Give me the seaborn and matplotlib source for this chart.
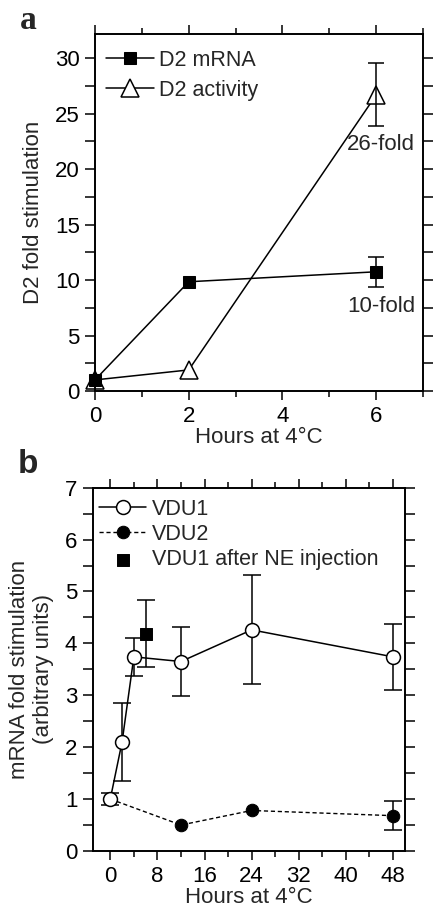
import numpy as np
import pandas as pd
import seaborn as sns
import matplotlib.pyplot as plt
from matplotlib.ticker import MultipleLocator

# panel a data
hours_a = [0, 2, 6]
mrna = [1.0, 9.85, 10.75]
mrna_err = [0, 0, 1.35]
activity = [1.0, 1.9, 26.7]
activity_err = [0, 0, 2.85]

# panel b data
hours_vdu1 = [0, 2, 4, 12, 24, 48]
vdu1 = [1.0, 2.1, 3.74, 3.65, 4.26, 3.74]
vdu1_err = [0.12, 0.76, 0.37, 0.67, 1.05, 0.63]
hours_vdu2 = [0, 12, 24, 48]
vdu2 = [1.0, 0.5, 0.78, 0.68]
vdu2_err = [0, 0, 0, 0.28]
hours_ne = [6]
ne = [4.19]
ne_err = [0.65]

sns.set_style("ticks")
plt.rcParams['font.family'] = ['Liberation Sans', 'DejaVu Sans']
plt.rcParams['axes.linewidth'] = 1.4
plt.rcParams['xtick.major.width'] = 1.1
plt.rcParams['ytick.major.width'] = 1.1
plt.rcParams['xtick.minor.width'] = 1.1
plt.rcParams['ytick.minor.width'] = 1.1

FS = 16

fig = plt.figure(figsize=(4.41, 9.11), dpi=100)
ax1 = fig.add_axes([0.2154, 0.5708, 0.744, 0.392])
ax2 = fig.add_axes([0.210, 0.0659, 0.708, 0.3988])


def style_axis(ax):
    ax.tick_params(which='both', direction='out', top=True, right=True,
                   labelsize=FS, colors='black', pad=4)
    ax.tick_params(axis='x', which='major', length=6.5, pad=4)
    ax.tick_params(axis='x', which='minor', length=4)
    ax.tick_params(axis='y', which='both', length=7)
    for s in ax.spines.values():
        s.set_color('black')


def err_bars(ax, x, y, e, cap):
    # only points that carry an error bar
    keep = [i for i in range(len(e)) if e[i] > 0]
    ax.errorbar([x[i] for i in keep], [y[i] for i in keep],
                yerr=[e[i] for i in keep], fmt='none', ecolor='black',
                elinewidth=1.1, capsize=cap, capthick=1.1)


# ---- panel a ----
da = pd.DataFrame({'h': hours_a, 'mrna': mrna, 'act': activity})
sns.lineplot(data=da, x='h', y='act', ax=ax1, color='black', lw=1.1,
             marker='^', markersize=13, markerfacecolor='white',
             markeredgecolor='black', markeredgewidth=1.1, clip_on=False,
             label='D2 activity')
sns.lineplot(data=da, x='h', y='mrna', ax=ax1, color='black', lw=1.1,
             marker='s', markersize=9, markerfacecolor='black',
             markeredgecolor='black', clip_on=False, label='D2 mRNA')
err_bars(ax1, hours_a, mrna, mrna_err, 6)
err_bars(ax1, hours_a, activity, activity_err, 6)
ax1.text(6.1, 22.2, '26-fold', ha='center', va='center', fontsize=FS)
ax1.text(6.1, 7.6, '10-fold', ha='center', va='center', fontsize=FS)

ax1.set_xlim(0, 7)
ax1.set_ylim(0, 32.2)
ax1.xaxis.set_major_locator(MultipleLocator(2))
ax1.xaxis.set_minor_locator(MultipleLocator(1))
ax1.yaxis.set_major_locator(MultipleLocator(5))
ax1.yaxis.set_minor_locator(MultipleLocator(2.5))
ax1.set_xlabel('Hours at 4°C', fontsize=FS, labelpad=0)
ax1.set_ylabel('D2 fold stimulation', fontsize=FS, labelpad=8)
style_axis(ax1)
h, l = ax1.get_legend_handles_labels()
ax1.legend(h[::-1], l[::-1], loc='upper left', bbox_to_anchor=(0.034, 0.955),
           frameon=False, fontsize=15.5, handlelength=2.2, handletextpad=0.25,
           labelspacing=0.4, borderaxespad=0, borderpad=0)
fig.text(0.063, 0.977, 'a', fontsize=24, fontweight='bold',
         family='Liberation Serif', ha='center', va='center')

# ---- panel b ----
d1 = pd.DataFrame({'h': hours_vdu1, 'v': vdu1})
d2 = pd.DataFrame({'h': hours_vdu2, 'v': vdu2})
dn = pd.DataFrame({'h': hours_ne, 'v': ne})
err_bars(ax2, hours_vdu1, vdu1, vdu1_err, 6.8)
err_bars(ax2, hours_vdu2, vdu2, vdu2_err, 6.8)
err_bars(ax2, hours_ne, ne, ne_err, 6.8)
sns.lineplot(data=d2, x='h', y='v', ax=ax2, color='black', lw=1.0,
             linestyle=(0, (3, 2)), marker='o', markersize=9,
             markerfacecolor='black', markeredgecolor='black', label='VDU2')
sns.lineplot(data=d1, x='h', y='v', ax=ax2, color='black', lw=1.1,
             marker='o', markersize=10, markerfacecolor='white',
             markeredgecolor='black', markeredgewidth=1.1, label='VDU1')
sns.scatterplot(data=dn, x='h', y='v', ax=ax2, color='black', marker='s',
                s=75, edgecolor='black', label='VDU1 after NE injection',
                zorder=5)

ax2.set_xlim(-3, 50)
ax2.set_ylim(0, 7)
ax2.xaxis.set_major_locator(MultipleLocator(8))
ax2.xaxis.set_minor_locator(MultipleLocator(4))
ax2.yaxis.set_major_locator(MultipleLocator(1))
ax2.yaxis.set_minor_locator(MultipleLocator(0.5))
ax2.set_xlabel('Hours at 4°C', fontsize=FS, labelpad=0)
ax2.set_ylabel('mRNA fold stimulation\n(arbitrary units)', fontsize=FS,
               labelpad=8, linespacing=1.15)
style_axis(ax2)
h, l = ax2.get_legend_handles_labels()
order = [l.index('VDU1'), l.index('VDU2'), l.index('VDU1 after NE injection')]
ax2.legend([h[i] for i in order], [l[i] for i in order], loc='upper left',
           bbox_to_anchor=(0.02, 0.97), frameon=False, fontsize=15.5,
           handlelength=2.2, handletextpad=0.25, labelspacing=0.2,
           borderaxespad=0, borderpad=0)
fig.text(0.063, 0.49, 'b', fontsize=24, fontweight='bold',
         family='Liberation Sans', ha='center', va='center')

fig.savefig('out.png', dpi=100)
